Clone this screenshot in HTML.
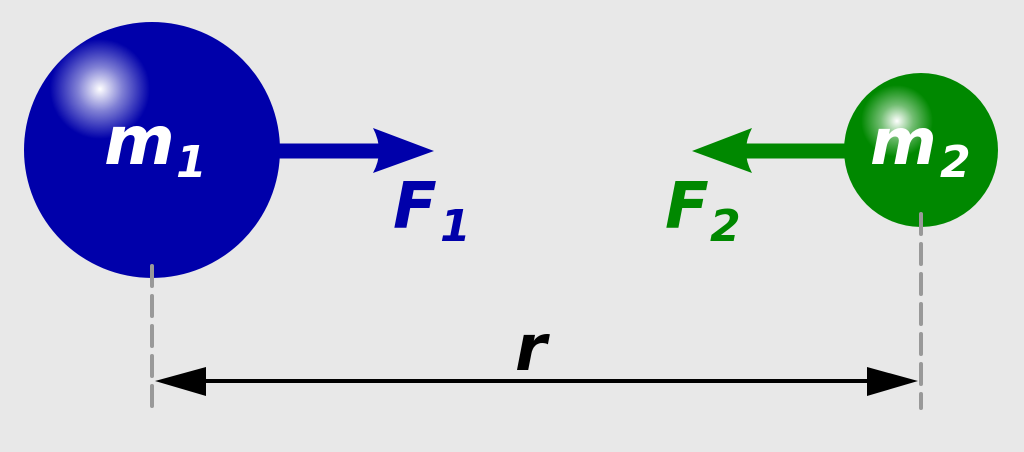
<!DOCTYPE html>
<html><head><meta charset="utf-8"><style>
html,body{margin:0;padding:0;background:#e8e8e8;}
svg{display:block}
text{font-family:"DejaVu Sans","Liberation Sans",sans-serif;font-weight:bold;font-style:italic}
</style></head><body>
<svg width="1024" height="452" viewBox="0 0 1024 452" xmlns="http://www.w3.org/2000/svg">
<defs>
<radialGradient id="g1" cx="100" cy="89" r="50" gradientUnits="userSpaceOnUse">
<stop offset="0" stop-color="#fff"/><stop offset="0.45" stop-color="#fff" stop-opacity="0.5"/><stop offset="1" stop-color="#fff" stop-opacity="0"/></radialGradient>
<radialGradient id="g2" cx="897" cy="121" r="36" gradientUnits="userSpaceOnUse">
<stop offset="0" stop-color="#fff"/><stop offset="0.45" stop-color="#fff" stop-opacity="0.45"/><stop offset="1" stop-color="#fff" stop-opacity="0"/></radialGradient>
</defs>
<rect width="1024" height="452" fill="#e8e8e8"/>
<!-- r arrow -->
<line x1="200" y1="381" x2="872" y2="381" stroke="#000" stroke-width="4"/>
<path d="M155,381 L206,367 L206,396 Z" fill="#000"/>
<path d="M918,381 L867,367 L867,396 Z" fill="#000"/>
<text x="515" y="370" font-size="64" fill="#000">r</text>
<!-- m1 -->
<line x1="278" y1="151" x2="385" y2="151" stroke="#0000aa" stroke-width="15"/>
<path d="M434,151 L373,128 Q385,151 373,173 Z" fill="#0000aa"/>
<circle cx="152" cy="150" r="128" fill="#0000aa"/>
<circle cx="152" cy="150" r="128" fill="url(#g1)"/>
<text x="104" y="164" font-size="68" fill="#fff">m</text>
<text x="176" y="177" font-size="44" fill="#fff">1</text>
<text x="393" y="228" font-size="64" fill="#0000aa">F</text>
<text x="440" y="241" font-size="44" fill="#0000aa">1</text>
<!-- m2 -->
<line x1="847" y1="151" x2="740" y2="151" stroke="#008800" stroke-width="15"/>
<path d="M692,151 L752,128 Q740,151 752,173 Z" fill="#008800"/>
<circle cx="921" cy="150" r="77" fill="#008800"/>
<circle cx="921" cy="150" r="77" fill="url(#g2)"/>
<text x="870" y="164" font-size="64" fill="#fff">m</text>
<text x="940" y="177" font-size="44" fill="#fff">2</text>
<text x="665" y="228" font-size="64" fill="#008800">F</text>
<text x="710" y="241" font-size="44" fill="#008800">2</text>
<!-- dashed lines on top -->
<line x1="152" y1="266" x2="152" y2="408" stroke="#999" stroke-width="4" stroke-dasharray="20,10" stroke-linecap="round"/>
<line x1="921" y1="214" x2="921" y2="408" stroke="#999" stroke-width="4" stroke-dasharray="20,10" stroke-linecap="round"/>
</svg>
</body></html>
